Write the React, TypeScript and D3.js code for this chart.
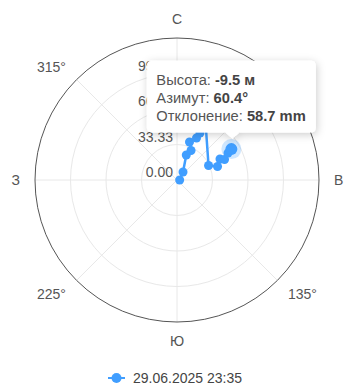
import React from "react";
import * as d3 from "d3";

const azimuths = [90, 36.9, 20.4, 25.4, 18.2, 24.9, 26.1, 18.6, 65.3, 71.6, 64, 66.7, 62.1, 60.4];
const deflections = [2.5, 9.4, 25.0, 30.7, 37.6, 43.5, 49.1, 79.3, 32.6, 40.1, 44.9, 48.6, 54.2, 58.7];
const radiusTicks = [0, 33.33, 66.66, 99.99, 133.32];
const radiusTickLabels = ["0.00", "33.33", "66.66", "99.99"];
const angleTicks = [0, 45, 90, 135, 180, 225, 270, 315];
const angleTickLabels = ["С", "45°", "В", "135°", "Ю", "225°", "З", "315°"];
const seriesName = "29.06.2025 23:35";
const tooltipLabels = ["Высота: ", "Азимут: ", "Отклонение: "];
const tooltipValues = ["-9.5 м", "60.4°", "58.7 mm"];
const highlightIndex = 13;

const W = 345;
const H = 385;
const cx = 177;
const cy = 180;
const R = 142;
const color = "#409EFF";
const font = "'Liberation Sans', Arial, sans-serif";

export default function App() {
  const rScale = d3.scaleLinear().domain([0, 133.32]).range([0, R]);
  const aScale = d3.scaleLinear().domain([0, 360]).range([0, 2 * Math.PI]);
  const data = azimuths.map((a, i) => ({ az: a, dev: deflections[i] }));
  const line = d3
    .lineRadial<{ az: number; dev: number }>()
    .angle((d) => aScale(d.az))
    .radius((d) => rScale(d.dev));
  const pts = data.map((d) => d3.pointRadial(aScale(d.az), rScale(d.dev)));
  const hp = pts[highlightIndex];
  const hx = cx + hp[0];
  const hy = cy + hp[1];
  const tipW = 168;
  const tipH = 71;
  const tipL = hx - 84;
  const tipT = hy - 88;
  const arrowX = hx + 1;
  const arrowY = hy - 11;

  return (
    <svg
      width={W}
      height={H}
      style={{ position: "absolute", left: 0, top: 0, background: "#fff" }}
      fontFamily={font}
    >
      <defs>
        <filter id="sh" x="-20%" y="-30%" width="140%" height="170%">
          <feDropShadow dx="1" dy="2" stdDeviation="4" floodColor="#000" floodOpacity="0.2" />
        </filter>
      </defs>
      <rect width={W} height={H} fill="#fff" />
      <g transform={`translate(${cx},${cy})`}>
        {radiusTicks.slice(1, -1).map((t, i) => (
          <circle key={i} r={rScale(t)} fill="none" stroke="#e8e8e8" strokeWidth={1} />
        ))}
        {angleTicks.map((a, i) => {
          const p = d3.pointRadial(aScale(a), R);
          return <line key={i} x1={0} y1={0} x2={p[0]} y2={p[1]} stroke="#e8e8e8" strokeWidth={1} />;
        })}
        <circle r={R} fill="none" stroke="#555" strokeWidth={1} />
        {angleTicks.map((a, i) => {
          const dist = R + 15;
          const p = d3.pointRadial(aScale(a), dist);
          const s = Math.sin(aScale(a));
          const c = Math.cos(aScale(a));
          const anchor = Math.abs(s) < 0.3 ? "middle" : s > 0 ? "start" : "end";
          let dy = 5;
          if (Math.abs(c) > 0.3 && Math.abs(s) > 0.3) dy = c > 0 ? 3 : 8;
          else if (Math.abs(s) < 0.3) dy = c > 0 ? 1 : 9;
          return (
            <text key={i} x={p[0]} y={p[1] + dy} textAnchor={anchor} fontSize={14} fill="#555">
              {angleTickLabels[i]}
            </text>
          );
        })}
        {radiusTickLabels.map((lab, i) => (
          <text key={i} x={-4} y={-rScale(radiusTicks[i]) - 3} textAnchor="end" fontSize={14} fill="#555">
            {lab}
          </text>
        ))}
        <path d={line(data) || ""} fill="none" stroke={color} strokeWidth={2.5} strokeLinejoin="round" />
        {pts.map((p, i) =>
          i === highlightIndex ? null : <circle key={i} cx={p[0]} cy={p[1]} r={4.5} fill={color} />
        )}
        <circle cx={hp[0]} cy={hp[1]} r={10} fill={color} opacity={0.25} />
        <circle cx={hp[0]} cy={hp[1]} r={6} fill={color} />
      </g>
      <g filter="url(#sh)">
        <path
          d={`M${tipL + 4},${tipT} H${tipL + tipW - 4} Q${tipL + tipW},${tipT} ${tipL + tipW},${tipT + 4} V${tipT + tipH - 4} Q${tipL + tipW},${tipT + tipH} ${tipL + tipW - 4},${tipT + tipH} H${arrowX + 7} L${arrowX},${arrowY} L${arrowX - 7},${tipT + tipH} H${tipL + 4} Q${tipL},${tipT + tipH} ${tipL},${tipT + tipH - 4} V${tipT + 4} Q${tipL},${tipT} ${tipL + 4},${tipT} Z`}
          fill="#fff"
          stroke="#fff"
          strokeWidth={1}
        />
      </g>
      {tooltipLabels.map((lab, i) => (
        <text key={i} x={tipL + 9} y={tipT + 24 + i * 17.7} fontSize={14.7} fill="#555">
          {lab}
          <tspan fontWeight="bold" fill="#444">
            {tooltipValues[i]}
          </tspan>
        </text>
      ))}
      <g transform="translate(0,378)">
        <line x1={108} x2={125} y1={0} y2={0} stroke={color} strokeWidth={2} />
        <circle cx={116.5} cy={0} r={5} fill={color} />
        <text x={133} y={5} fontSize={14} fill="#444">
          {seriesName}
        </text>
      </g>
    </svg>
  );
}
